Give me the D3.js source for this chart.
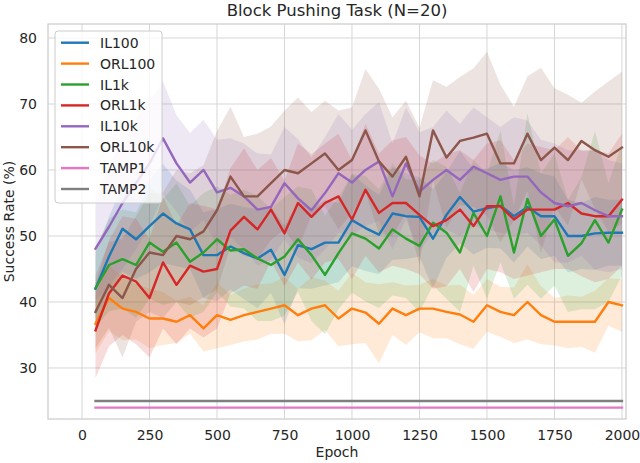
<!DOCTYPE html>
<html>
<head>
<meta charset="utf-8">
<script src="https://cdn.jsdelivr.net/npm/d3@7"></script>
<style>
  body { margin: 0; background: #fff; }
  text { font-family: "DejaVu Sans", sans-serif; fill: #262626; }
</style>
</head>
<body>
<svg width="640" height="463"></svg>
<script>
// epochs at which each run was evaluated
const epochs = [50, 100, 150, 200, 250, 300, 350, 400, 450, 500,
  550, 600, 650, 700, 750, 800, 850, 900, 950, 1000,
  1050, 1100, 1150, 1200, 1250, 1300, 1350, 1400, 1450, 1500,
  1550, 1600, 1650, 1700, 1750, 1800, 1850, 1900, 1950, 2000];

// mean success rate (%)
const il100 = [42, 46.9, 51.1, 49.5, 51.5, 53.4, 51.9, 51, 47.1, 47.1,
  48.4, 47.4, 46.6, 47.9, 44.1, 48.6, 48, 49, 49, 52.4,
  51.2, 50.2, 53.4, 53, 52.9, 49.6, 53.2, 55.9, 53.7, 54.2,
  54.6, 53, 54.4, 53, 53, 50, 50, 50.4, 50.5, 50.5];
const orl100 = [36.7, 40.6, 39, 38.5, 37.5, 37.5, 37, 38, 36, 38,
  37.3, 38, 38.5, 39, 39.5, 38, 39, 39.5, 37.5, 39,
  38.4, 36.7, 39, 38, 39, 39, 38.5, 38.1, 37, 39.5,
  38.5, 38, 40, 38, 37, 37, 37, 37, 40, 39.5];
const il1k = [42.1, 45.6, 46.5, 45.6, 49, 47.6, 49, 46.1, 47.5, 49.5,
  47.8, 48, 46.6, 45.6, 46.9, 49.5, 47.1, 44.1, 47.4, 50.4,
  49.6, 48.1, 51, 49.6, 48.5, 52, 50.5, 47.5, 53.5, 50,
  56, 47.5, 55.6, 50, 52.5, 47, 48.9, 52.4, 49, 54];
const orl1k = [35.7, 41.3, 44, 43.1, 40.6, 46, 42.6, 45.5, 44.6, 45,
  50.8, 52.9, 51, 54, 50.4, 55, 52.9, 55, 56, 52.5,
  57, 53.5, 55, 55, 53.2, 51.5, 52.4, 54, 51.5, 54.5,
  54.5, 52.5, 54, 54, 54, 55, 53.4, 53, 53, 55.5];
const il10k = [48.1, 51.4, 55, 58, 61, 64.8, 61, 58.1, 60, 56.6,
  57.3, 56, 54, 54.4, 58, 55.7, 53.9, 56.5, 59.5, 58.1,
  60, 61.3, 56, 61, 56.7, 58.5, 60, 58.5, 60.5, 59.5,
  58.5, 59, 59, 56.6, 55, 54.5, 55, 53.9, 53, 53];
const orl10k = [38.5, 42.6, 40.6, 45, 47.5, 47.1, 50, 49.5, 50.7, 53.9,
  59, 56, 56, 58, 60, 59.5, 61, 62.5, 60, 61.5,
  66, 61.3, 59, 62, 56, 66, 61.9, 64.4, 64.9, 65.5,
  61, 61, 65.5, 61.5, 63.4, 61.5, 64.4, 63, 62, 63.4];

// spread around the mean (shaded band)
const il100Sd = [5.5, 6, 6.5, 6, 7, 7.5, 6.5, 6, 6.5, 7,
  6.5, 7, 7.5, 6.5, 7.5, 6.5, 6, 6.5, 6, 7,
  6.5, 6, 7, 6.5, 6, 7.5, 6.5, 7, 6.5, 6,
  6.5, 7, 6, 6.5, 6, 5.5, 5, 5.5, 5, 5];
const orl100Sd = [4.5, 5, 4.8, 4.2, 4.5, 4, 3.2, 2.8, 3.5, 5,
  3.8, 4, 4.2, 3.8, 4.3, 4, 4.8, 3.7, 4.2, 5.4,
  4.6, 6, 4, 4.5, 3.6, 4.5, 4, 4.5, 4.1, 4,
  3.8, 4.2, 5.7, 4.4, 3.6, 4, 3.8, 4.7, 3.6, 4];
const il1kSd = [6, 7, 7.5, 8, 8.5, 8, 9, 8.5, 9, 8,
  8.5, 9, 9.5, 8.5, 9, 8, 10, 9, 8.5, 9,
  9.5, 9, 10, 9, 10, 9.5, 10, 9, 8, 9.5,
  10, 7, 13, 9.5, 10, 8.5, 10, 13.5, 9, 10];
const orl1kSd = [7.2, 8, 9, 9.5, 9, 10, 9, 9.5, 10, 9,
  9.5, 10.4, 9, 7.8, 8, 9, 9.5, 9, 9.5, 9,
  10, 9, 9.5, 10, 9, 9.5, 10, 9, 10, 9.5,
  10, 9, 10, 9.5, 9, 10, 9.5, 10, 9.5, 10];
const il10kSd = [8, 9, 10, 10, 9.5, 8.6, 7.3, 7.5, 7.6, 8,
  7.5, 8, 8.5, 8, 8.5, 9, 8, 8.5, 9, 8,
  8.5, 9, 8, 8.5, 9, 8, 9, 8.5, 9, 8.5,
  8, 9, 8.5, 8, 9, 8.5, 8, 9, 8.5, 8];
const orl10kSd = [5.5, 6.5, 9, 8, 9, 9.5, 10, 10, 10, 12,
  10.6, 9, 9.5, 8.6, 9, 11.5, 7.8, 8, 9, 8,
  9.3, 11, 9, 8.5, 10.4, 7.6, 10.7, 9.7, 10.5, 12.4,
  11.9, 8.6, 8.7, 14, 9, 9.9, 5.8, 8.9, 11.4, 11.5];

// planner baselines (constant)
const tamp1 = 24;
const tamp2 = 25;

const xTicks = [0, 250, 500, 750, 1000, 1250, 1500, 1750, 2000];
const yTicks = [30, 40, 50, 60, 70, 80];

const series = [
  { name: "IL100", color: "#1f77b4", mean: il100, sd: il100Sd },
  { name: "ORL100", color: "#ff7f0e", mean: orl100, sd: orl100Sd },
  { name: "IL1k", color: "#2ca02c", mean: il1k, sd: il1kSd },
  { name: "ORL1k", color: "#d62728", mean: orl1k, sd: orl1kSd },
  { name: "IL10k", color: "#9467bd", mean: il10k, sd: il10kSd },
  { name: "ORL10k", color: "#8c564b", mean: orl10k, sd: orl10kSd },
  { name: "TAMP1", color: "#e377c2", level: tamp1 },
  { name: "TAMP2", color: "#7f7f7f", level: tamp2 }
];

const svg = d3.select("svg");
const plotL = 48, plotR = 626, plotT = 24, plotB = 419;

const x = d3.scaleLinear().domain([-126, 2015]).range([plotL, plotR]);
const y = d3.scaleLinear().domain([22.27, 82.12]).range([plotB, plotT]);

// grid
const grid = svg.append("g");
grid.selectAll(".gx").data(xTicks).join("line")
  .attr("x1", d => x(d)).attr("x2", d => x(d))
  .attr("y1", plotT).attr("y2", plotB)
  .attr("stroke", "#d6d6d6").attr("stroke-width", 1);
grid.selectAll(".gy").data(yTicks).join("line")
  .attr("x1", plotL).attr("x2", plotR)
  .attr("y1", d => y(d)).attr("y2", d => y(d))
  .attr("stroke", "#d6d6d6").attr("stroke-width", 1);

svg.append("clipPath").attr("id", "plot")
  .append("rect").attr("x", plotL).attr("y", plotT)
  .attr("width", plotR - plotL).attr("height", plotB - plotT);

const area = d3.area()
  .x(d => x(d.e))
  .y0(d => y(d.m - d.sd))
  .y1(d => y(d.m + d.sd));

const line = d3.line()
  .x(d => x(d.e))
  .y(d => y(d.m));

const bands = svg.append("g").attr("clip-path", "url(#plot)");
const lines = svg.append("g").attr("clip-path", "url(#plot)");

series.forEach(s => {
  let pts;
  if (s.mean) {
    pts = epochs.map((e, i) => ({ e: e, m: s.mean[i], sd: s.sd[i] }));
    bands.append("path").datum(pts)
      .attr("d", area)
      .attr("fill", s.color)
      .attr("fill-opacity", 0.16);
  } else {
    pts = [epochs[0], epochs[epochs.length - 1]].map(e => ({ e: e, m: s.level }));
  }
  lines.append("path").datum(pts)
    .attr("d", line)
    .attr("fill", "none")
    .attr("stroke", s.color)
    .attr("stroke-width", 2.4)
    .attr("stroke-linejoin", "round")
    .attr("stroke-linecap", "square");
});

// frame
svg.append("rect")
  .attr("x", plotL).attr("y", plotT)
  .attr("width", plotR - plotL).attr("height", plotB - plotT)
  .attr("fill", "none").attr("stroke", "#cccccc").attr("stroke-width", 1.25);

// tick labels
const xAxis = svg.append("g")
  .attr("transform", `translate(0,${plotB})`)
  .call(d3.axisBottom(x).tickValues(xTicks).tickFormat(d3.format("d"))
    .tickSize(0).tickPadding(11));
const yAxis = svg.append("g")
  .attr("transform", `translate(${plotL},0)`)
  .call(d3.axisLeft(y).tickValues(yTicks).tickFormat(d3.format("d"))
    .tickSize(0).tickPadding(11));
[xAxis, yAxis].forEach(a => {
  a.select(".domain").remove();
  a.selectAll("text").attr("font-size", 14).attr("font-family", "DejaVu Sans").style("fill", "#262626");
});

svg.append("text")
  .attr("x", (plotL + plotR) / 2).attr("y", 16)
  .attr("text-anchor", "middle").attr("font-size", 16.5)
  .text("Block Pushing Task (N=20)");

svg.append("text")
  .attr("x", (plotL + plotR) / 2).attr("y", 457)
  .attr("text-anchor", "middle").attr("font-size", 14)
  .text("Epoch");

svg.append("text")
  .attr("transform", `translate(14,${(plotT + plotB) / 2}) rotate(-90)`)
  .attr("text-anchor", "middle").attr("font-size", 14)
  .text("Success Rate (%)");

// legend
const legend = svg.append("g");
legend.append("rect")
  .attr("x", 55).attr("y", 31).attr("width", 107).attr("height", 172)
  .attr("rx", 3)
  .attr("fill", "#fff").attr("fill-opacity", 0.8)
  .attr("stroke", "#cccccc").attr("stroke-width", 1);

const item = legend.selectAll(".item").data(series).join("g")
  .attr("transform", (d, i) => `translate(0,${42.7 + i * 20.9})`);
item.append("line")
  .attr("x1", 61).attr("x2", 89)
  .attr("stroke", d => d.color).attr("stroke-width", 2.4);
item.append("text")
  .attr("x", 100).attr("dy", "0.36em")
  .attr("font-size", 14)
  .text(d => d.name);
</script>
</body>
</html>
